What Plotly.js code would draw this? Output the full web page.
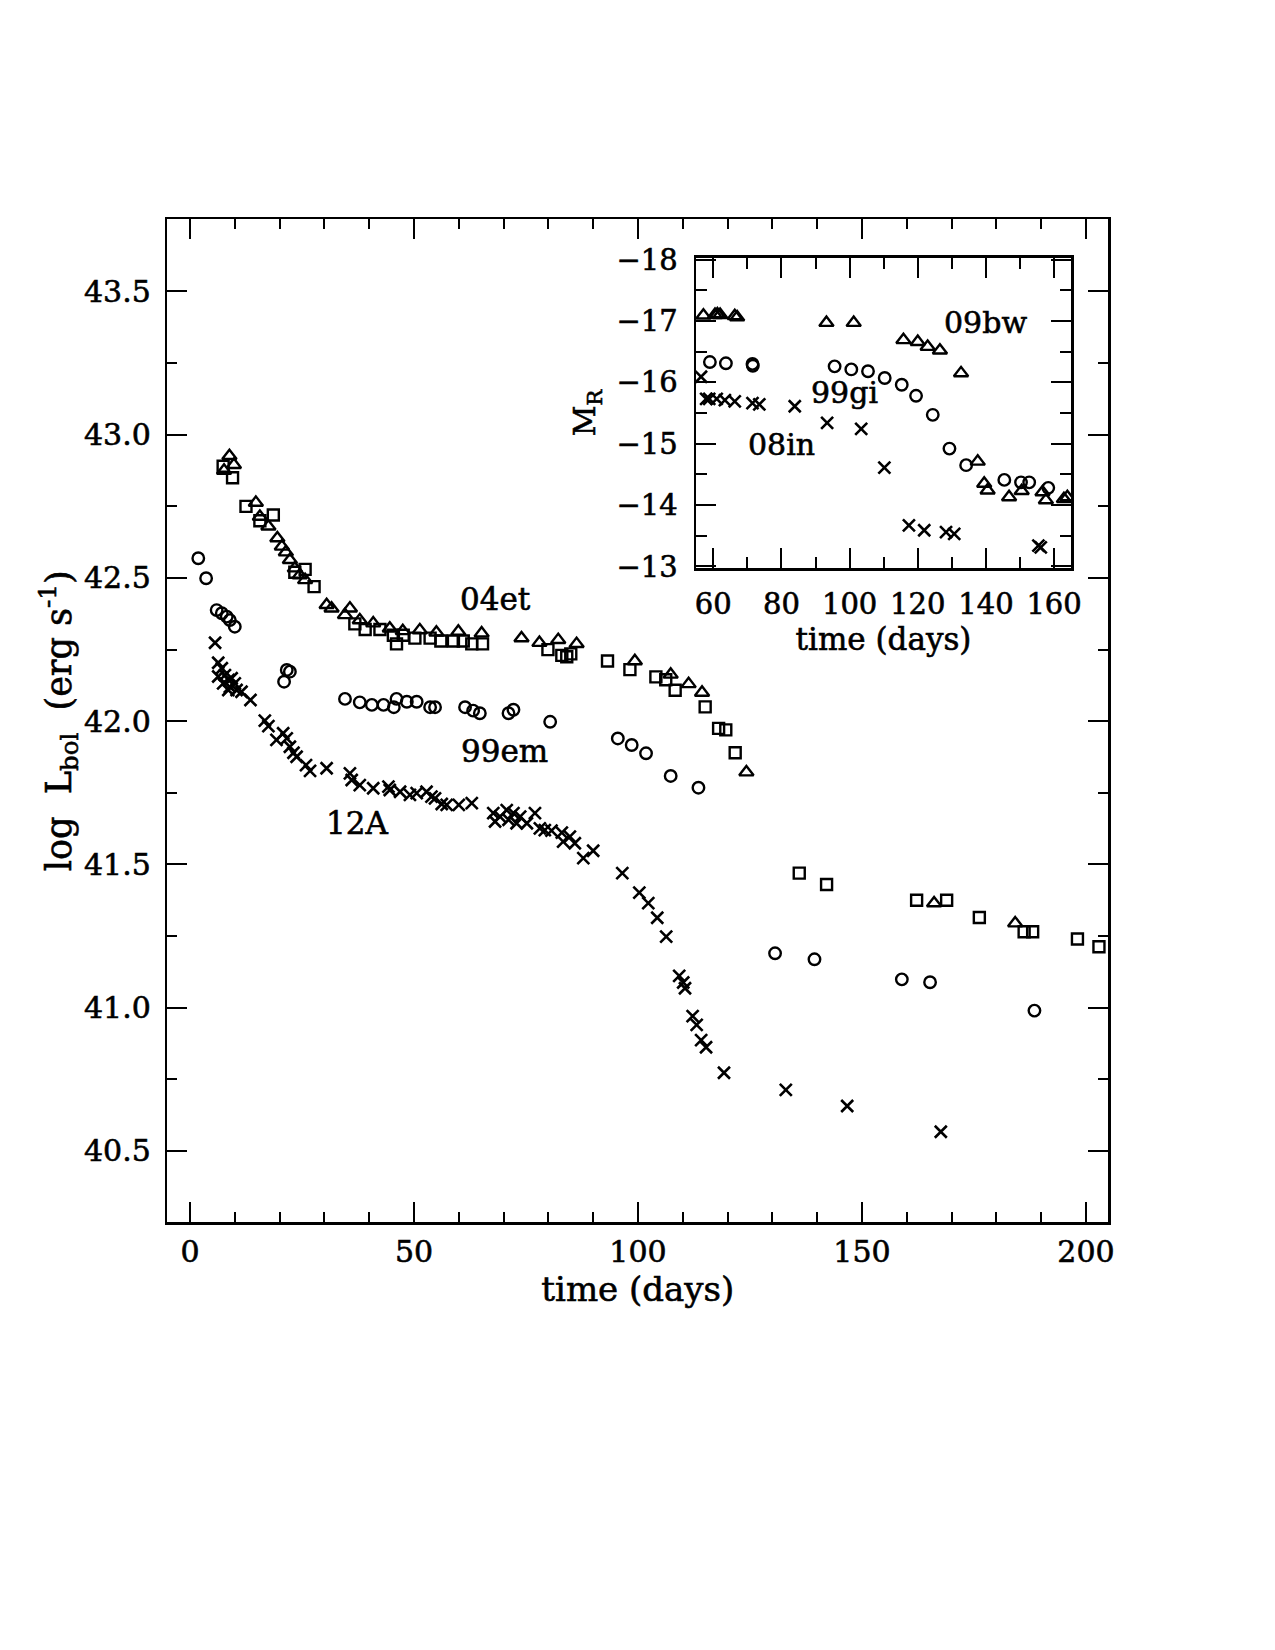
<!DOCTYPE html>
<html>
<head>
<meta charset="utf-8">
<script src="https://cdn.plot.ly/plotly-3.0.1.min.js"></script>
<style>
html,body{margin:0;padding:0;background:#fff;}
#chart{width:1275px;height:1650px;}
#chart svg text{stroke:#000;stroke-width:0.6px;}
</style>
</head>
<body>
<div id="chart"></div>
<script>
// ---- Main panel: log L_bol vs time ----
// SN 2004et (squares)
const sqX = [7.4, 9.5, 12.5, 15.6, 18.6, 23.4, 25.7, 27.7, 36.8, 39.1, 42.4, 45.4, 46.1, 47.6, 50.2, 53.6, 56.0, 58.8, 61.0, 62.9, 65.3, 79.9, 83.0, 84.1, 85.0, 93.2, 98.2, 104.0, 106.2, 108.3, 115.0, 118.0, 119.6, 121.7, 136.0, 142.1, 162.2, 168.9, 176.2, 186.2, 188.1, 198.1, 202.9];
const sqY = [42.89, 42.85, 42.75, 42.70, 42.72, 42.52, 42.53, 42.47, 42.34, 42.32, 42.32, 42.30, 42.27, 42.30, 42.29, 42.29, 42.28, 42.28, 42.28, 42.27, 42.27, 42.25, 42.23, 42.225, 42.235, 42.21, 42.18, 42.155, 42.145, 42.108, 42.05, 41.975, 41.97, 41.89, 41.47, 41.43, 41.375, 41.375, 41.315, 41.265, 41.265, 41.24, 41.213];
// triangles
const triX = [7.6, 8.8, 9.8, 14.7, 15.6, 17.5, 19.5, 20.5, 21.4, 22.3, 23.4, 24.5, 25.7, 30.5, 31.6, 34.6, 35.7, 37.9, 40.9, 44.6, 47.5, 51.3, 55.0, 59.9, 65.1, 74.0, 78.0, 82.2, 86.3, 99.3, 107.3, 111.3, 114.3, 124.2, 166.1, 184.2];
const triY = [42.875, 42.926, 42.895, 42.763, 42.714, 42.68, 42.639, 42.61, 42.59, 42.563, 42.534, 42.51, 42.493, 42.406, 42.394, 42.371, 42.394, 42.353, 42.342, 42.324, 42.315, 42.318, 42.31, 42.313, 42.307, 42.29, 42.274, 42.284, 42.27, 42.21, 42.163, 42.13, 42.1, 41.822, 41.365, 41.295];
// SN 1999em (circles)
const cirX = [1.85, 3.6, 5.95, 7.1, 8.2, 8.9, 10.0, 21.0, 21.6, 22.3, 34.6, 37.9, 40.6, 43.2, 45.5, 46.1, 48.4, 50.6, 53.6, 54.7, 61.4, 63.2, 64.7, 71.1, 72.2, 80.4, 95.5, 98.6, 101.8, 107.3, 113.5, 130.6, 139.4, 158.9, 165.2, 188.5];
const cirY = [42.569, 42.499, 42.388, 42.377, 42.365, 42.353, 42.33, 42.138, 42.179, 42.173, 42.078, 42.066, 42.057, 42.057, 42.049, 42.078, 42.068, 42.068, 42.049, 42.049, 42.049, 42.037, 42.028, 42.028, 42.04, 41.998, 41.94, 41.917, 41.888, 41.809, 41.768, 41.19, 41.169, 41.099, 41.089, 40.99];
// SN 2012A (crosses)
const crsX = [5.6, 6.3, 6.3, 7.1, 7.4, 7.8, 8.55, 8.6, 8.9, 9.3, 10.0, 10.4, 11.5, 13.5, 16.7, 17.5, 19.3, 20.8, 21.6, 22.3, 23.1, 23.8, 25.9, 26.8, 30.5, 35.7, 36.1, 37.9, 40.9, 44.3, 44.6, 46.9, 49.1, 50.6, 52.8, 53.9, 54.7, 56.2, 57.3, 60.0, 62.9, 67.7, 68.1, 69.2, 70.7, 71.1, 72.2, 72.9, 73.7, 75.2, 77.0, 78.1, 79.2, 80.7, 83.0, 83.3, 84.8, 85.9, 87.8, 90.0, 96.5, 100.3, 102.3, 104.3, 106.3, 109.2, 110.1, 110.5, 112.2, 113.1, 114.1, 115.2, 119.2, 133.0, 146.7, 167.6];
const crsY = [42.274, 42.204, 42.156, 42.185, 42.132, 42.161, 42.109, 42.144, 42.12, 42.15, 42.132, 42.109, 42.103, 42.074, 42.002, 41.983, 41.935, 41.958, 41.94, 41.911, 41.89, 41.876, 41.847, 41.827, 41.836, 41.818, 41.795, 41.777, 41.766, 41.772, 41.76, 41.754, 41.743, 41.749, 41.754, 41.737, 41.731, 41.711, 41.708, 41.708, 41.714, 41.679, 41.65, 41.667, 41.69, 41.656, 41.679, 41.644, 41.667, 41.644, 41.679, 41.626, 41.62, 41.618, 41.611, 41.58, 41.597, 41.574, 41.522, 41.548, 41.47, 41.402, 41.365, 41.314, 41.248, 41.111, 41.088, 41.068, 40.971, 40.94, 40.887, 40.862, 40.773, 40.713, 40.657, 40.567];

// ---- Inset: M_R vs time ----
// SN 2009bw (triangles)
const bwX = [57.1, 60.5, 61.2, 62.0, 66.3, 67.0, 93.2, 101.2, 115.8, 120.0, 122.9, 126.5, 132.7, 137.6, 139.5, 140.5, 146.8, 150.5, 156.6, 157.6, 162.9, 163.9];
const bwY = [-17.09, -17.10, -17.11, -17.10, -17.08, -17.06, -16.97, -16.97, -16.69, -16.66, -16.58, -16.52, -16.15, -14.71, -14.35, -14.24, -14.13, -14.23, -14.21, -14.08, -14.10, -14.13];
// SN 1999gi (circles)
const giX = [59.0, 63.7, 71.5, 71.6, 95.6, 100.5, 105.4, 110.3, 115.3, 119.5, 124.4, 129.3, 134.2, 145.4, 150.3, 152.7, 158.3];
const giY = [-16.33, -16.31, -16.30, -16.27, -16.26, -16.21, -16.18, -16.07, -15.96, -15.78, -15.47, -14.92, -14.65, -14.41, -14.37, -14.37, -14.28];
// SN 2008in (crosses)
const inX = [56.4, 57.9, 58.8, 61.0, 63.4, 66.3, 71.5, 73.5, 83.9, 93.4, 103.4, 110.2, 117.4, 121.9, 128.3, 130.7, 155.4, 156.1];
const inY = [-16.09, -15.73, -15.73, -15.73, -15.71, -15.69, -15.66, -15.64, -15.61, -15.34, -15.24, -14.61, -13.67, -13.59, -13.56, -13.53, -13.34, -13.31];

// tick labels
const mainXTicks = [0, 50, 100, 150, 200];
const mainYTicks = [40.5, 41.0, 41.5, 42.0, 42.5, 43.0, 43.5];
const mainYText = ['40.5', '41.0', '41.5', '42.0', '42.5', '43.0', '43.5'];
const insetXTicks = [60, 80, 100, 120, 140, 160];
const insetYTicks = [-18, -17, -16, -15, -14, -13];
const insetYText = ['\u221218', '\u221217', '\u221216', '\u221215', '\u221214', '\u221213'];

const FONT = 'DejaVu Serif, Liberation Serif, serif';
const K = '#000';

function mk(sym, size, w) {
  return {symbol: sym, size: size, color: K, line: {color: K, width: w}};
}

const traces = [
  {x: sqX, y: sqY, type: 'scatter', mode: 'markers', name: '04et', marker: mk('square-open', 11, 2.4), xaxis: 'x', yaxis: 'y'},
  {x: triX, y: triY, type: 'scatter', mode: 'markers', name: 'triangles', marker: mk('triangle-up-open', 12.5, 2.4), xaxis: 'x', yaxis: 'y'},
  {x: cirX, y: cirY, type: 'scatter', mode: 'markers', name: '99em', marker: mk('circle-open', 11.5, 2.4), xaxis: 'x', yaxis: 'y'},
  {x: crsX, y: crsY, type: 'scatter', mode: 'markers', name: '12A', marker: mk('x-thin-open', 12, 2.6), xaxis: 'x', yaxis: 'y'},
  {x: bwX, y: bwY, type: 'scatter', mode: 'markers', name: '09bw', marker: mk('triangle-up-open', 12.5, 2.4), xaxis: 'x2', yaxis: 'y2'},
  {x: giX, y: giY, type: 'scatter', mode: 'markers', name: '99gi', marker: mk('circle-open', 11.5, 2.4), xaxis: 'x2', yaxis: 'y2'},
  {x: inX, y: inY, type: 'scatter', mode: 'markers', name: '08in', marker: mk('x-thin-open', 12, 2.6), xaxis: 'x2', yaxis: 'y2'}
];

function axis(extra) {
  return Object.assign({
    showgrid: false, zeroline: false, showline: true, linecolor: K, linewidth: 2.5,
    mirror: 'allticks', ticks: 'inside', ticklen: 20, tickwidth: 2, tickcolor: K,
    tickfont: {family: FONT, size: 30, color: K}, ticklabelstandoff: 8,
    fixedrange: true
  }, extra);
}

const layout = {
  width: 1275, height: 1650,
  margin: {l: 0, r: 0, t: 0, b: 0},
  paper_bgcolor: '#fff', plot_bgcolor: 'rgba(0,0,0,0)',
  showlegend: false,
  font: {family: FONT, color: K},
  xaxis: axis({
    domain: [0.1312, 0.8693], anchor: 'y', range: [-5.07, 205.0],
    tickmode: 'array', tickvals: mainXTicks, ticktext: mainXTicks.map(String),
    ticklabelstandoff: 1,
    minor: {dtick: 10, tick0: 0, ticklen: 10, tickwidth: 2, ticks: 'inside', tickcolor: K},
    title: {text: 'time (days)', font: {family: FONT, size: 34, color: K}, standoff: 4}
  }),
  yaxis: axis({
    domain: [0.2592, 0.8671], anchor: 'x', range: [40.251, 43.752],
    tickmode: 'array', tickvals: mainYTicks, ticktext: mainYText,
    minor: {dtick: 0.25, tick0: 40.5, ticklen: 10, tickwidth: 2, ticks: 'inside', tickcolor: K},
    title: {text: 'log  L<sub>bol</sub>  (erg s<sup>-1</sup>)', font: {family: FONT, size: 35, color: K}, standoff: 0}
  }),
  xaxis2: axis({
    domain: [0.5459, 0.8400], anchor: 'y2', range: [54.93, 164.97],
    tickmode: 'array', tickvals: insetXTicks, ticktext: insetXTicks.map(String),
    tickfont: {family: FONT, size: 29, color: K}, ticklabelstandoff: 8,
    minor: {dtick: 10, tick0: 0, ticklen: 11, tickwidth: 2, ticks: 'inside', tickcolor: K},
    title: {text: 'time (days)', font: {family: FONT, size: 31, color: K}, standoff: 6}
  }),
  yaxis2: axis({
    domain: [0.6556, 0.8438], anchor: 'x2', range: [-12.97, -18.03],
    tickmode: 'array', tickvals: insetYTicks, ticktext: insetYText,
    tickfont: {family: FONT, size: 29, color: K}, ticklabelstandoff: 10,
    minor: {dtick: 0.5, tick0: -18, ticklen: 11, tickwidth: 2, ticks: 'inside', tickcolor: K},
    title: {text: 'M<sub>R</sub>', font: {family: FONT, size: 30, color: K}, standoff: 12}
  }),
  annotations: [
    {xref: 'x', yref: 'y', x: 68.3, y: 42.427, text: '04et', showarrow: false, font: {family: FONT, size: 31, color: K}},
    {xref: 'x', yref: 'y', x: 70.2, y: 41.896, text: '99em', showarrow: false, font: {family: FONT, size: 31, color: K}},
    {xref: 'x', yref: 'y', x: 37.2, y: 41.645, text: '12A', showarrow: false, font: {family: FONT, size: 31, color: K}},
    {xref: 'x2', yref: 'y2', x: 139.8, y: -16.98, text: '09bw', showarrow: false, font: {family: FONT, size: 30, color: K}},
    {xref: 'x2', yref: 'y2', x: 98.5, y: -15.83, text: '99gi', showarrow: false, font: {family: FONT, size: 30, color: K}},
    {xref: 'x2', yref: 'y2', x: 80.0, y: -14.99, text: '08in', showarrow: false, font: {family: FONT, size: 30, color: K}}
  ]
};

Plotly.newPlot('chart', traces, layout, {staticPlot: true, displayModeBar: false});
</script>
</body>
</html>
